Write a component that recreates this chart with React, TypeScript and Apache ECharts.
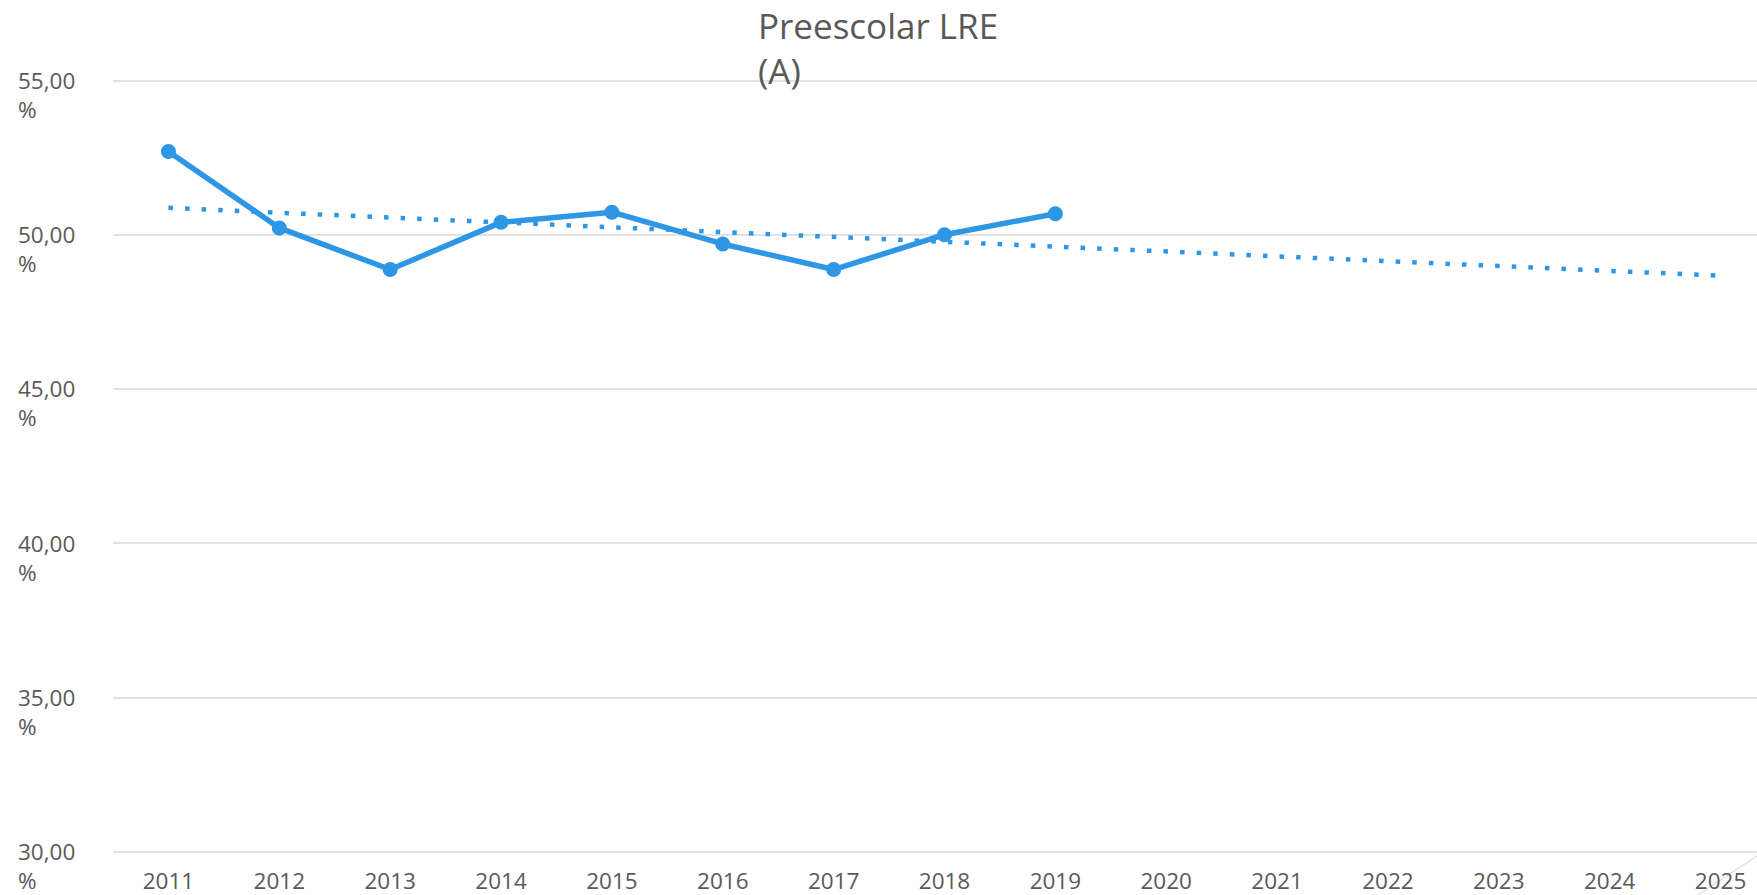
import React, { useEffect, useRef } from "react";
import * as echarts from "echarts";

const years = ["2011", "2012", "2013", "2014", "2015", "2016", "2017", "2018", "2019", "2020", "2021", "2022", "2023", "2024", "2025"];
const lreValues = [52.7, 50.22, 48.87, 50.4, 50.73, 49.7, 48.87, 50.0, 50.68];
const trendStart = 50.87;
const trendEnd = 48.67;
const yTicks = { min: 30, max: 55, interval: 5 };
const titleLines = ["Preescolar LRE", "(A)"];

const BLUE = "#2D97E6";
const GRAY_TEXT = "#595959";
const FONT = "'Open Sans', 'Liberation Sans', sans-serif";

export default function App() {
  const ref = useRef<HTMLDivElement>(null);
  useEffect(() => {
    if (!ref.current) return;
    const chart = echarts.init(ref.current, null, { renderer: "svg" });
    const mainData = years.map((_, i) => (i < lreValues.length ? lreValues[i] : null));
    const trendData = years.map((_, i) => (i === 0 ? trendStart : i === years.length - 1 ? trendEnd : null));
    chart.setOption({
      animation: false,
      backgroundColor: "#ffffff",
      title: {
        text: titleLines.join("\n"),
        left: 758,
        top: 3,
        padding: 0,
        textStyle: {
          fontFamily: FONT,
          fontSize: 35,
          fontWeight: "normal",
          color: GRAY_TEXT,
          lineHeight: 45,
        },
      },
      grid: { left: 113, right: 0, top: 80.5, bottom: 43, containLabel: false },
      xAxis: {
        type: "category",
        data: years,
        boundaryGap: true,
        axisLine: { show: false },
        axisTick: { show: false },
        axisLabel: {
          fontFamily: FONT,
          fontSize: 22.5,
          lineHeight: 22,
          color: GRAY_TEXT,
          margin: 18,
          interval: 0,
        },
      },
      yAxis: {
        type: "value",
        min: yTicks.min,
        max: yTicks.max,
        interval: yTicks.interval,
        axisLine: { show: false },
        axisTick: { show: false },
        splitLine: { lineStyle: { color: "#d9d9d9", width: 1.5 } },
        axisLabel: {
          fontFamily: FONT,
          fontSize: 22.5,
          lineHeight: 29,
          color: GRAY_TEXT,
          align: "left",
          verticalAlign: "middle",
          margin: 95,
          formatter: (v: number) => "\n" + v.toFixed(2).replace(".", ",") + "\n%",
        },
      },
      series: [
        {
          type: "line",
          data: mainData,
          symbol: "circle",
          symbolSize: 15,
          lineStyle: { color: BLUE, width: 5.5 },
          itemStyle: { color: BLUE },
          z: 3,
        },
        {
          type: "line",
          data: trendData,
          connectNulls: true,
          symbol: "none",
          lineStyle: { color: BLUE, width: 4.5, type: [4.5, 12.1], cap: "butt" },
          z: 2,
        },
      ],
      graphic: [
        {
          type: "line",
          shape: { x1: 1757, y1: 856, x2: 1698, y2: 895 },
          style: { stroke: "#d0d0d0", lineWidth: 1 },
          silent: true,
        },
      ],
    });
    return () => chart.dispose();
  }, []);
  return (
    <div
      ref={ref}
      style={{ position: "fixed", left: 0, top: 0, width: 1776, height: 895 }}
    />
  );
}
